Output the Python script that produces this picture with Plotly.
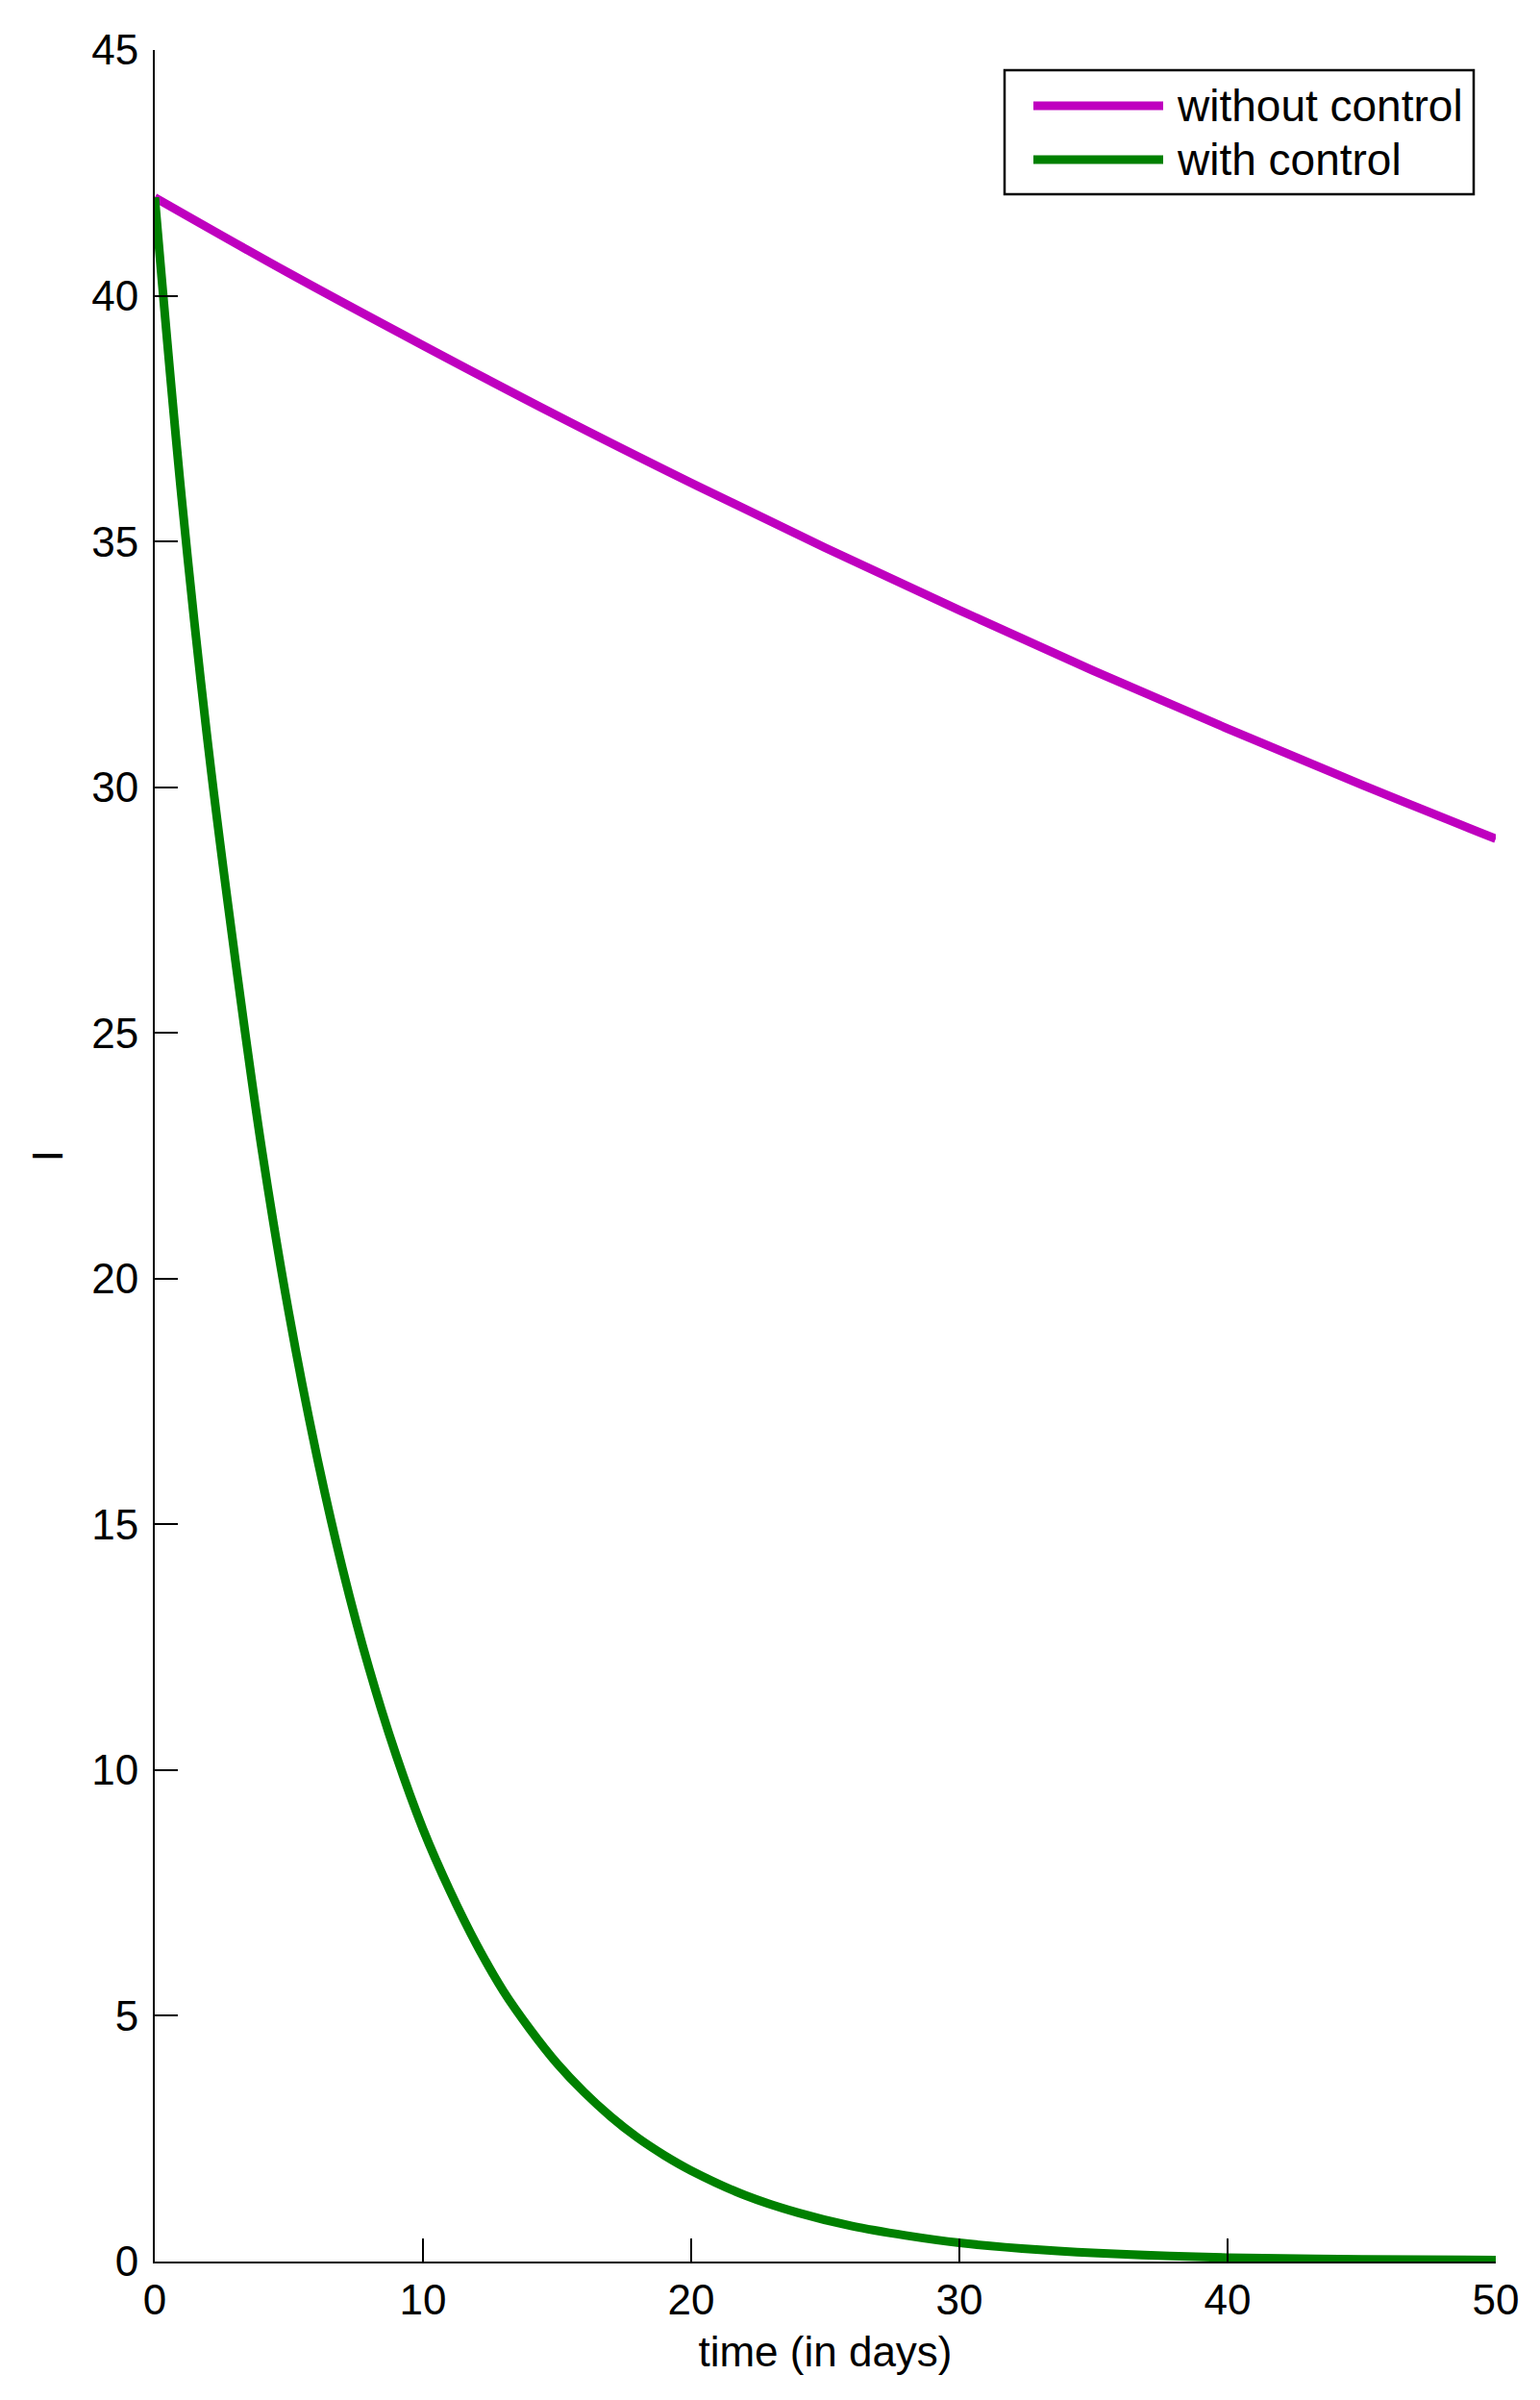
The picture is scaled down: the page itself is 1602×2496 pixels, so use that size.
import plotly.graph_objects as go

C_MAGENTA = '#bf00bf'
C_GREEN   = '#008000'
C_TEXT    = '#000000'
FONT      = 'Liberation Sans, Arial, sans-serif'

# values
t_without = [0, 5, 10, 15, 20, 25, 30, 35, 40, 45, 50]
i_without = [42.0, 40.46, 38.99, 37.56, 36.19, 34.87, 33.6, 32.37, 31.19, 30.05, 28.95]

t_with = [0, 1, 2, 3, 4, 5, 6, 7, 8, 9, 10, 11, 12, 13, 14, 15, 16, 17, 18, 19,
          20, 22, 24, 26, 28, 30, 33, 36, 40, 45, 50]
i_with = [42.0, 35.9, 30.8, 26.5, 22.6, 19.3, 16.5, 14.1, 12.05, 10.3, 8.8, 7.55,
          6.45, 5.5, 4.72, 4.03, 3.45, 2.95, 2.52, 2.16, 1.85, 1.35, 0.99, 0.72,
          0.53, 0.38, 0.24, 0.15, 0.08, 0.045, 0.03]

series_names = ['without control', 'with control']
x_ticks = [0, 10, 20, 30, 40, 50]
y_ticks = [0, 5, 10, 15, 20, 25, 30, 35, 40, 45]

W, H = 1602, 2496
OFF = 8  # page body margin
L, R, T, B = 153, 54, 44, 152
PW, PH = W - L - R, H - T - B


# page pixel -> paper coordinate (for the hand-made legend)
def px(x):
    return (x - OFF - L) / PW


def py(y):
    return (OFF + H - B - y) / PH


fig = go.Figure()
fig.add_trace(go.Scatter(x=t_without, y=i_without, mode='lines', name=series_names[0],
                         line=dict(color=C_MAGENTA, width=9, shape='spline')))
fig.add_trace(go.Scatter(x=t_with, y=i_with, mode='lines', name=series_names[1],
                         line=dict(color=C_GREEN, width=9, shape='spline')))

# legend box drawn by hand so the sample lines match the original length
fig.add_shape(type='rect', xref='paper', yref='paper',
              x0=px(1045), x1=px(1533), y0=py(202), y1=py(73),
              line=dict(color='black', width=2.5), fillcolor='white', layer='above')
for name, color, ly in [(series_names[0], C_MAGENTA, 110), (series_names[1], C_GREEN, 166)]:
    fig.add_shape(type='line', xref='paper', yref='paper',
                  x0=px(1075), x1=px(1210), y0=py(ly), y1=py(ly),
                  line=dict(color=color, width=9), layer='above')
    fig.add_annotation(text=name, xref='paper', yref='paper', x=px(1222), y=py(ly),
                       xanchor='left', yanchor='middle', showarrow=False,
                       font=dict(size=46, color=C_TEXT, family=FONT))

axis_common = dict(
    showgrid=False, zeroline=False, showline=True, linecolor='black', linewidth=2,
    ticks='inside', ticklen=24, tickwidth=2, tickcolor='black', mirror=False,
    tickfont=dict(size=44, color=C_TEXT, family=FONT),
)
fig.update_layout(
    width=W, height=H,
    paper_bgcolor='white', plot_bgcolor='white',
    font=dict(family=FONT, color=C_TEXT, size=44),
    margin=dict(l=L, r=R, t=T, b=B, autoexpand=False),
    showlegend=False,
    xaxis=dict(**axis_common, range=[0, 50], tickvals=x_ticks,
               title=dict(text='time (in days)', font=dict(size=44), standoff=15)),
    yaxis=dict(**axis_common, range=[0, 45], tickvals=y_ticks, ticklabelstandoff=6,
               title=dict(text='I', font=dict(size=44), standoff=16)),
)
fig.write_html('out.html')
